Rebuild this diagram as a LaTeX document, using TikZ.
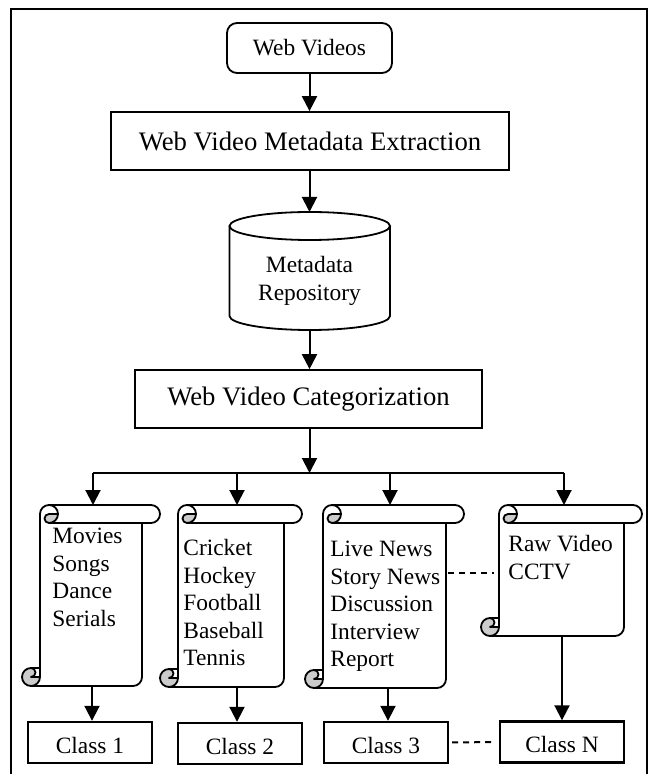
\documentclass[tikz,border=0pt]{standalone}
\usepackage{fontspec}
\setmainfont{Liberation Serif}
\usetikzlibrary{arrows.meta,calc}
\definecolor{curlgray}{gray}{0.8}
\newcommand{\smallfont}{\fontsize{11.7}{13.75}\selectfont}
\newcommand{\bigfont}{\fontsize{13.35}{16}\selectfont}
\tikzset{
  box/.style={draw, line width=0.85pt, minimum height=29pt, inner sep=0pt, font=\bigfont},
  classbox/.style={draw, line width=1.2pt, minimum width=62pt, minimum height=20.5pt, inner sep=0pt, text height=10.5pt, text depth=0pt, font=\smallfont},
  arr/.style={line width=1pt, -{Triangle[width=7.5pt,length=7.5pt]}},
  link/.style={line width=1pt},
  dashlink/.style={line width=1pt, dash pattern=on 3pt off 2.5pt},
  scrolltext/.style={anchor=north west, inner sep=0pt, align=left, font=\smallfont},
  scrollline/.style={line width=0.9pt, line join=round},
}
% vertical scroll: #1 left, #2 right, #3 top, #4 bottom (pixels)
\newcommand{\prscroll}[4]{
  \fill[white] (#1,#4-18) -- (#1,#3+9) arc (180:270:9) -- (#2+9,#3) arc (270:450:9) -- (#2,#3+18) -- (#2,#4-9) arc (0:90:9) -- (#1-9,#4) arc (90:270:9) -- cycle;
  \fill[curlgray] (#1+18,#3+9) arc (0:90:9) arc (90:270:4.5) -- cycle;
  \fill[curlgray] (#1,#4-9) arc (0:270:9) arc (270:450:4.5) -- cycle;
  \draw[scrollline] (#1,#4-18) -- (#1,#3+9) arc (180:270:9) -- (#2+9,#3) arc (270:450:9) -- (#2,#3+18) -- (#2,#4-9) arc (0:90:9) -- (#1-9,#4) arc (90:270:9) -- cycle;
  \draw[scrollline] (#1+9,#3) arc (270:450:9) arc (90:270:4.5) -- (#1+18,#3+9);
  \draw[scrollline] (#2,#3+18) -- (#1+9,#3+18);
  \draw[scrollline] (#1-9,#4-18) arc (270:450:4.5) -- (#1,#4-9);
  \draw[scrollline] (#1-9,#4) arc (90:0:9) -- (#1,#4-18);
}
\begin{document}
\begin{tikzpicture}[x=0.5pt,y=-0.5pt]
	\useasboundingbox (0,0) rectangle (652,774);
	
	% frame
	\draw[line width=1.15pt] (11,790) -- (11,9) -- (647,9) -- (647,790);
	
	\node[draw, line width=0.9pt, rounded corners=5pt, minimum width=82.5pt, minimum height=25pt, inner sep=0pt, font=\smallfont] (web) at (309.5,48) {Web Videos};
	\node[box, minimum width=199pt] (extract) at (310,141) {Web Video Metadata Extraction};
	
	% repository
	\coordinate (repotop) at (309.5,212);
	\coordinate (repobot) at (309.5,330);
	\draw[line width=0.9pt] (229.5,226) -- (229.5,316) arc (180:0:80.25 and 14) -- (390,226);
	\draw[line width=0.9pt] (309.75,226) ellipse (80.25 and 14);
	\node[anchor=north, inner sep=0pt, align=center, font=\smallfont] (repo) at (309.5,256) {Metadata\\Repository};
	
	\node[box, minimum width=173.5pt] (categ) at (308.5,399) {Web Video Categorization};
	
	\draw[arr] (web.south) -- (web.south |- extract.north);
	\draw[arr] (extract.south -| repotop) -- (repotop);
	\draw[arr] (repobot) -- (repobot |- categ.north);
	
	% branches
	\coordinate (br) at (309.5,473);
	\coordinate (b1) at (93,473);
	\coordinate (b4) at (564,473);
	\coordinate (s1top) at (93,505);
	\coordinate (s2top) at (237,505);
	\coordinate (s3top) at (390,505);
	\coordinate (s4top) at (564,505);
	\draw[arr] (categ.south -| br) -- (br);
	\draw[link] (b1) -- (b4);
	\foreach \s in {s1top,s2top,s3top,s4top}
		\draw[arr] (\s |- b1) -- (\s);
	
	% scrolls
	\prscroll{40}{142}{505}{686}
	\prscroll{178}{284}{505}{687}
	\prscroll{323}{446}{505}{688}
	\prscroll{499}{624}{505}{636}
	
	\node[scrolltext] (s1) at (52,528) {Movies\\Songs\\Dance\\Serials};
	\node[scrolltext] (s2) at (183,539) {Cricket\\Hockey\\Football\\Baseball\\Tennis};
	\node[scrolltext] (s3) at (330,541) {Live News\\Story News\\Discussion\\Interview\\Report};
	\node[scrolltext] (s4) at (508,535) {Raw Video\\CCTV};
	
	% classes
	\node[classbox] (c1) at (90,742.5) {Class 1};
	\node[classbox] (c2) at (240,743.5) {Class 2};
	\node[classbox] (c3) at (386,742.5) {Class 3};
	\node[classbox] (cn) at (562,742) {Class N};
	
	\coordinate (s1bot) at (92,686);
	\coordinate (s2bot) at (237,687);
	\coordinate (s3bot) at (388,688);
	\coordinate (s4bot) at (562,636);
	\draw[arr] (s1bot) -- (s1bot |- c1.north);
	\draw[arr] (s2bot) -- (s2bot |- c2.north);
	\draw[arr] (s3bot) -- (s3bot |- c3.north);
	\draw[arr] (s4bot) -- (s4bot |- cn.north);
	
	\coordinate (s3dash) at (448,573);
	\coordinate (s4dash) at (494,573);
	\draw[dashlink] (s3dash) -- (s4dash);
	\draw[dashlink, shorten <=1.5pt, shorten >=1.5pt] (c3.east) -- (cn.west);
\end{tikzpicture}
\end{document}
